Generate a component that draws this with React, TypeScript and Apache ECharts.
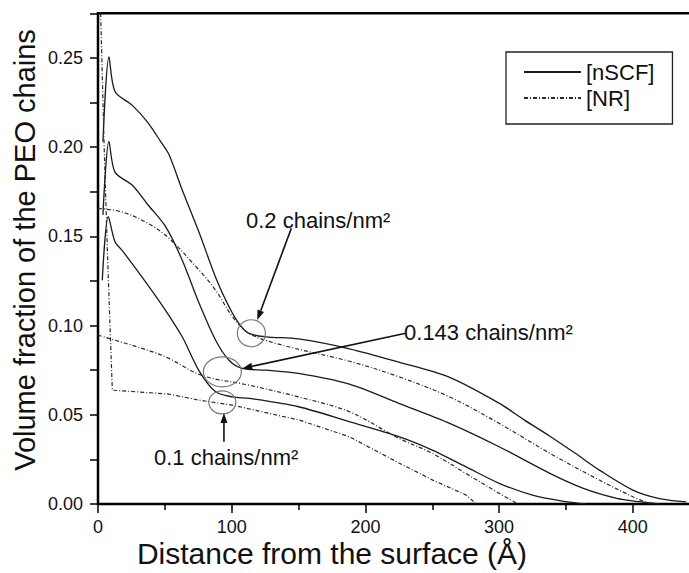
import React, { useEffect, useRef } from 'react';
import * as echarts from 'echarts';

// nSCF profiles (solid)
const scf20X = [3.7, 8.2, 12.7, 25.7, 37, 47, 53, 63, 75.7, 88, 98, 105.6, 113, 125.6, 150, 188, 225, 263, 300, 319, 338, 357, 375, 400, 420, 440];
const scf20Y = [0.203, 0.2505, 0.2312, 0.2234, 0.214, 0.203, 0.196, 0.176, 0.152, 0.127, 0.1105, 0.101, 0.0956, 0.0937, 0.0925, 0.087, 0.0795, 0.071, 0.0565, 0.047, 0.038, 0.0284, 0.019, 0.0078, 0.003, 0.0012];

const scf14X = [3.7, 8.2, 12.7, 25.7, 37, 50.7, 63, 75.7, 88, 98, 108, 125.6, 150, 188, 225, 263, 300, 338, 363, 388, 405, 420];
const scf14Y = [0.162, 0.2032, 0.186, 0.1786, 0.168, 0.1553, 0.1366, 0.1124, 0.0918, 0.0806, 0.076, 0.075, 0.0732, 0.0672, 0.0564, 0.0452, 0.0321, 0.0172, 0.0088, 0.0032, 0.0013, 0];

const scf10X = [3.2, 7.7, 12.7, 18.2, 38, 51, 63, 75.7, 88, 100.6, 113, 150, 188, 225, 250, 275, 300, 325, 350, 365];
const scf10Y = [0.1254, 0.161, 0.147, 0.142, 0.122, 0.108, 0.0937, 0.0745, 0.0629, 0.06, 0.0592, 0.0545, 0.0461, 0.0377, 0.0302, 0.0209, 0.0116, 0.005, 0.0013, 0];

// NR profiles (dash-dot)
const nr20X = [0, 18, 38, 53, 75.7, 88, 100.6, 113, 138, 188, 225, 263, 300, 338, 375, 400, 413];
const nr20Y = [0.1656, 0.1637, 0.157, 0.149, 0.131, 0.1198, 0.105, 0.0956, 0.089, 0.08, 0.0713, 0.06, 0.0452, 0.0284, 0.0134, 0.0041, 0];

const nr14X = [0, 38, 53, 78, 113, 150, 188, 225, 250, 275, 300, 314];
const nr14Y = [0.0946, 0.086, 0.0816, 0.072, 0.0666, 0.06, 0.0517, 0.0368, 0.0284, 0.0172, 0.006, 0];

const nr10X = [2.0, 4.5, 7, 10.7, 53, 75.7, 100.6, 150.6, 188, 225.5, 250.4, 275.4, 283];
const nr10Y = [0.275, 0.203, 0.142, 0.0638, 0.0616, 0.0582, 0.0554, 0.047, 0.0377, 0.0228, 0.0134, 0.005, 0];

const legendNames = ['[nSCF]', '[NR]'];
const xTickLabels = [0, 100, 200, 300, 400];
const xTitle = 'Distance from the surface (Å)';
const yTitle = 'Volume fraction of the PEO chains';

// annotations (data coordinates)
const annotCircles = [
  { x: 114.7, y: 0.0957, rx: 14, ry: 13.5 },
  { x: 93.0, y: 0.0741, rx: 19, ry: 15 },
  { x: 93.0, y: 0.057, rx: 13.5, ry: 11.5 },
];
const annotArrows = [
  { from: [144.6, 0.1545], to: [119.1, 0.1031] },
  { from: [230.1, 0.0957], to: [107.9, 0.076] },
  { from: [94.2, 0.0349], to: [94.2, 0.051] },
];
const annotLabels = [
  { text: '0.2 chains/nm²', x: 110.7, y: 0.1589 },
  { text: '0.143 chains/nm²', x: 228.9, y: 0.0962 },
  { text: '0.1 chains/nm²', x: 41.9, y: 0.0262 },
];

const FONT = '"Liberation Sans", Arial, Helvetica, sans-serif';

const zip = (xs: number[], ys: number[]) => xs.map((x, i) => [x, ys[i]]);

export default function App() {
  const ref = useRef<HTMLDivElement>(null);
  useEffect(() => {
    if (!ref.current) return;
    const chart = echarts.init(ref.current, null, { renderer: 'svg' });
    const solid = { color: '#1a1a1a', width: 1.3, type: 'solid' as const };
    const dashdot = { color: '#2a2a2a', width: 1.2, type: [4, 2, 1, 2] as any };
    const mk = (name: string, data: number[][], ls: any, smooth: number) => ({
      type: 'line',
      name,
      data,
      symbol: 'none',
      showSymbol: false,
      smooth,
      lineStyle: ls,
      itemStyle: { color: ls.color },
      emphasis: { disabled: true },
      silent: true,
      z: 3,
    });
    chart.setOption({
      animation: false,
      textStyle: { fontFamily: FONT },
      grid: {
        left: 98,
        right: -77.5,
        top: 13.3,
        bottom: 69,
        containLabel: false,
        outerBoundsMode: 'none',
        show: true,
        borderColor: '#000',
        borderWidth: 2.5,
      },
      legend: {
        data: legendNames,
        orient: 'vertical',
        left: 506,
        top: 52,
        itemWidth: 57,
        itemHeight: 10,
        itemGap: 4,
        padding: [9, 18, 15, 17],
        borderColor: '#222',
        borderWidth: 1.3,
        itemStyle: { opacity: 0 },
        textStyle: { fontSize: 22, lineHeight: 22, color: '#111', fontFamily: FONT },
        selectedMode: false,
      },
      xAxis: {
        type: 'value',
        min: 0,
        max: 500,
        interval: 100,
        axisLine: { show: true, lineStyle: { color: '#000', width: 2 } },
        axisTick: { show: true, inside: false, length: 9, lineStyle: { color: '#000', width: 1.5 } },
        minorTick: { show: true, splitNumber: 2, length: 6, lineStyle: { color: '#000', width: 1.5 } },
        splitLine: { show: false },
        axisLabel: {
          fontSize: 18,
          color: '#111',
          margin: 14,
          fontFamily: FONT,
          hideOverlap: false,
          formatter: (v: number) => (xTickLabels.includes(Math.round(v)) ? String(Math.round(v)) : ''),
        },
      },
      yAxis: {
        type: 'value',
        min: 0,
        max: 0.275,
        interval: 0.025,
        axisLine: { show: true, lineStyle: { color: '#000', width: 2 } },
        axisTick: { show: true, inside: false, length: 8, lineStyle: { color: '#000', width: 1.5 } },
        splitLine: { show: false },
        axisLabel: {
          fontSize: 18,
          color: '#111',
          margin: 15,
          fontFamily: FONT,
          formatter: (v: number) => {
            const k = Math.round(v / 0.025);
            return k % 2 === 0 ? v.toFixed(2) : '';
          },
        },
      },
      series: [
        mk('[nSCF]', zip(scf20X, scf20Y), solid, 0.3),
        mk('[NR]', zip(nr20X, nr20Y), dashdot, 0.35),
        mk('[nSCF]', zip(scf14X, scf14Y), solid, 0.3),
        mk('[NR]', zip(nr14X, nr14Y), dashdot, 0.35),
        mk('[nSCF]', zip(scf10X, scf10Y), solid, 0.3),
        mk('[NR]', zip(nr10X, nr10Y), dashdot, 0),
      ],
    });

    const px = (p: number[]) => chart.convertToPixel({ gridIndex: 0 }, p) as number[];
    const graphics: any[] = [];
    annotCircles.forEach((c) => {
      const [cx, cy] = px([c.x, c.y]);
      graphics.push({
        type: 'ellipse',
        shape: { cx, cy, rx: c.rx, ry: c.ry },
        style: { fill: 'none', stroke: '#777', lineWidth: 1.2 },
        z: 10,
      });
    });
    annotArrows.forEach((a) => {
      const [x1, y1] = px(a.from);
      const [x2, y2] = px(a.to);
      const dx = x2 - x1;
      const dy = y2 - y1;
      const len = Math.sqrt(dx * dx + dy * dy);
      const ux = dx / len;
      const uy = dy / len;
      const hl = 10;
      const hw = 3.5;
      const bx = x2 - ux * hl;
      const by = y2 - uy * hl;
      graphics.push({
        type: 'line',
        shape: { x1, y1, x2: bx, y2: by },
        style: { stroke: '#111', lineWidth: 1.6 },
        z: 10,
      });
      graphics.push({
        type: 'polygon',
        shape: {
          points: [
            [x2, y2],
            [bx - uy * hw, by + ux * hw],
            [bx + uy * hw, by - ux * hw],
          ],
        },
        style: { fill: '#111', stroke: 'none' },
        z: 10,
      });
    });
    annotLabels.forEach((l) => {
      const [x, y] = px([l.x, l.y]);
      graphics.push({
        type: 'text',
        x,
        y,
        style: {
          text: l.text,
          fontSize: 22,
          fontFamily: FONT,
          fill: '#111',
          align: 'left',
          verticalAlign: 'middle',
        },
        z: 11,
      });
    });
    graphics.push({
      type: 'text',
      x: 332,
      y: 553,
      style: { text: xTitle, fontSize: 30, fontFamily: FONT, fill: '#111', align: 'center', verticalAlign: 'middle' },
    });
    graphics.push({
      type: 'text',
      x: 25,
      y: 250,
      rotation: Math.PI / 2,
      style: { text: yTitle, fontSize: 29, fontFamily: FONT, fill: '#111', align: 'center', verticalAlign: 'middle' },
    });
    chart.setOption({ graphic: graphics });

    return () => chart.dispose();
  }, []);
  return (
    <div
      ref={ref}
      style={{ position: 'absolute', left: 0, top: 0, width: 689, height: 573, background: '#fff' }}
    />
  );
}
